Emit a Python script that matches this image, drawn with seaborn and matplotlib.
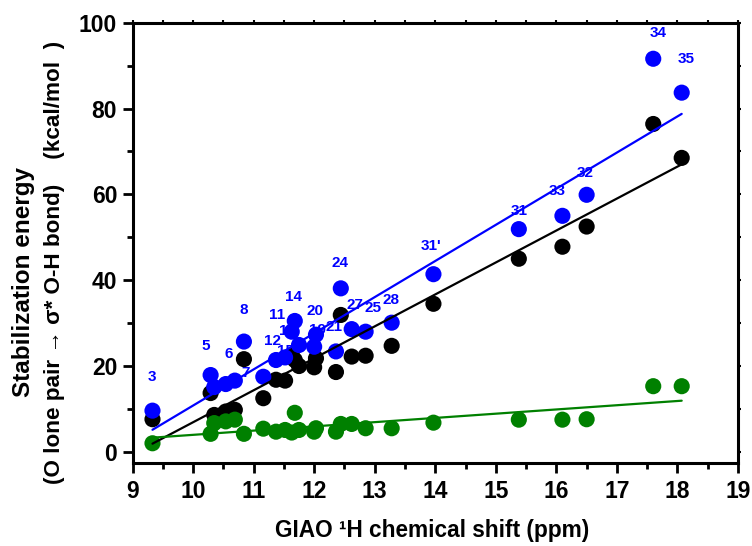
import matplotlib
matplotlib.use("Agg")
import matplotlib.pyplot as plt
import seaborn as sns
import numpy as np
from matplotlib.ticker import MultipleLocator

# ---- data ----
shift = [9.33, 10.29, 10.35, 10.54, 10.69, 10.84, 11.16, 11.37, 11.52, 11.63,
         11.68, 11.75, 12.00, 12.03, 12.36, 12.44, 12.62, 12.85, 13.28, 13.97,
         15.38, 16.10, 16.50, 17.60, 18.07]
e_total = [9.6, 17.9, 15.1, 15.8, 16.6, 25.7, 17.5, 21.4, 22.0, 28.0,
           30.5, 24.9, 24.5, 27.3, 23.4, 38.1, 28.6, 28.0, 30.1, 41.4,
           51.9, 55.0, 59.9, 91.6, 83.7]
e_main = [7.6, 13.7, 8.6, 9.4, 9.8, 21.6, 12.5, 16.8, 16.6, 22.5,
          21.4, 20.0, 19.7, 21.8, 18.6, 31.9, 22.2, 22.4, 24.7, 34.5,
          45.0, 47.8, 52.5, 76.4, 68.5]
e_minor = [2.0, 4.2, 6.7, 7.1, 7.5, 4.2, 5.4, 4.7, 5.1, 4.5,
           9.1, 5.1, 4.7, 5.5, 4.7, 6.5, 6.5, 5.5, 5.5, 6.8,
           7.5, 7.5, 7.6, 15.3, 15.3]

label_text = ["3", "5", "6", "7", "8", "11", "13", "12", "15", "14", "20", "19",
              "21", "24", "27", "25", "28", "31'", "31", "33", "32", "34", "35"]
label_x = [9.32, 10.21, 10.59, 10.86, 10.84, 11.39, 11.56, 11.31, 11.52, 11.66,
           12.01, 12.06, 12.33, 12.43, 12.67, 12.97, 13.27, 13.93, 15.38, 16.02,
           16.47, 17.68, 18.14]
label_y = [17.5, 24.7, 22.8, 18.4, 33.1, 31.9, 28.2, 25.9, 23.6, 36.0,
           32.8, 28.4, 29.0, 44.1, 34.2, 33.6, 35.4, 48.0, 56.2, 60.9,
           64.9, 97.6, 91.6]

x_ticks = list(range(9, 20))
y_ticks = [0, 20, 40, 60, 80, 100]

sns.set_style("ticks")
FAM = ["Liberation Sans", "DejaVu Sans"]
plt.rcParams["font.family"] = FAM
plt.rcParams["font.weight"] = "bold"
plt.rcParams["text.color"] = "black"
plt.rcParams["axes.labelcolor"] = "black"
plt.rcParams["xtick.color"] = "black"
plt.rcParams["ytick.color"] = "black"

fig = plt.figure(figsize=(7.52, 5.46), dpi=100)
ax = fig.add_axes([0.1762, 0.152, 0.8052, 0.8064])

BLUE = "#0000FF"
GREEN = "#008000"
BLACK = "#000000"

# point labels sit under the points
for t, lx, ly in zip(label_text, label_x, label_y):
    ax.text(lx, ly, t, color=BLUE, fontsize=11, fontweight="bold",
            ha="center", va="center", zorder=1)

sns.scatterplot(x=shift, y=e_main, color=BLACK, s=135, edgecolor="none",
                ax=ax, zorder=2)
sns.scatterplot(x=shift, y=e_minor, color=GREEN, s=135, edgecolor="none",
                ax=ax, zorder=3)
sns.scatterplot(x=shift, y=e_total, color=BLUE, s=135, edgecolor="none",
                ax=ax, zorder=4)

for yy, c in [(e_main, BLACK), (e_minor, GREEN), (e_total, BLUE)]:
    sns.regplot(x=shift, y=yy, scatter=False, ci=None, color=c, ax=ax,
                line_kws=dict(lw=1.6, zorder=5), truncate=True)

ax.set_xlim(9, 19)
ax.set_ylim(-2.6, 100)
ax.set_xticks(x_ticks)
ax.set_yticks(y_ticks)
ax.xaxis.set_minor_locator(MultipleLocator(0.5))
ax.yaxis.set_minor_locator(MultipleLocator(10))
ax.set_xlabel("")
ax.set_ylabel("")

for sp in ax.spines.values():
    sp.set_linewidth(2.2)
    sp.set_color("black")
    sp.set_visible(True)

ax.tick_params(axis="both", which="major", direction="out", length=7,
               width=2, labelsize=16.5, pad=4, colors="black")
ax.tick_params(axis="both", which="minor", direction="out", length=4,
               width=2)
ax.tick_params(axis="x", which="major", pad=5)
for lab in ax.get_xticklabels() + ax.get_yticklabels():
    lab.set_fontweight("bold")

# small mirrored ticks on top and right
secx = ax.secondary_xaxis("top")
secx.set_xticks(x_ticks)
secx.xaxis.set_minor_locator(MultipleLocator(0.5))
secx.tick_params(which="both", direction="out", length=2.5, width=1.5,
                 labeltop=False)
secx.spines["top"].set_visible(False)
secy = ax.secondary_yaxis("right")
secy.set_yticks(y_ticks)
secy.yaxis.set_minor_locator(MultipleLocator(10))
secy.tick_params(which="both", direction="out", length=2.5, width=1.5,
                 labelright=False)
secy.spines["right"].set_visible(False)

fig.text(432 / 752, 1 - 531 / 546, "GIAO \u00b9H chemical shift (ppm)",
         fontsize=16.3, fontweight="bold", ha="center", va="center",
         color="black")
fig.text(24 / 752, 1 - 282 / 546, "Stabilization energy",
         fontsize=17.5, fontweight="bold", ha="center", va="center",
         rotation=90, color="black")
fig.text(55 / 752, 1 - 262 / 546,
         "(O lone pair \u2192 \u03c3* O-H bond)    (kcal/mol  )",
         fontsize=16.2, fontweight="bold", ha="center", va="center",
         rotation=90, color="black")

fig.savefig("out.png", dpi=100)
